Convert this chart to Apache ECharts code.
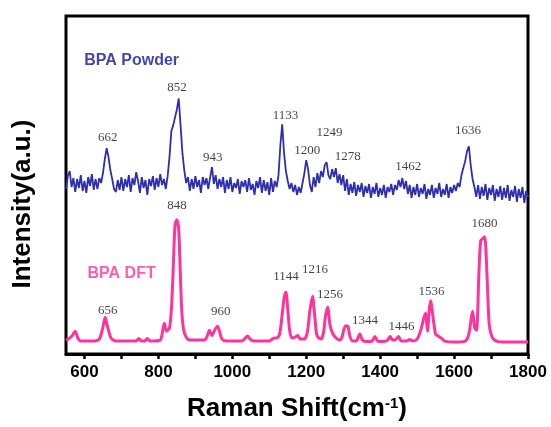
<!DOCTYPE html>
<html>
<head>
<meta charset="utf-8">
<script src="https://cdn.jsdelivr.net/npm/echarts@6/dist/echarts.min.js"></script>
<style>html,body{margin:0;padding:0;background:#fff;}#c{width:551px;height:427px;}</style>
</head>
<body>
<div id="c"></div>
<script>
// X axis
const xMin = 550, xMax = 1800;
const xTickValues = [600,700,800,900,1000,1100,1200,1300,1400,1500,1600,1700,1800];
const xLabelValues = [600,800,1000,1200,1400,1600,1800];

// BPA Powder spectrum (sampled every 5 cm-1 from 550)
const powderStart = 550, powderStep = 5;
const powderIntensity = [
166,179,184,168,177,163,176,167,180,164,174,162,178,169,181,165,176,166,177,
172,182,196,207,198,185,176,166,
163,175,165,178,164,176,168,180,163,177,170,183,174,162,178,167,175,160,176,169,179,165,177,168,181,170,176,166,179,
198,224,230,238,246,257,230,202,185,172,178,
164,176,166,179,168,175,162,178,170,177,166,178,188,171,180,166,176,168,178,162,175,166,178,163,172,167,176,161,174,168,175,163,177,165,171,160,174,167,178,162,175,164,173,160,177,163,174,168,
180,210,231,202,184,174,166,172,
163,170,160,168,162,172,
182,195,186,170,163,
178,168,182,172,184,178,190,193,180,176,186,178,187,172,181,170,180,
164,176,160,171,162,173,159,170,163,172,158,169,162,171,157,168,161,172,158,167,160,170,157,168,163,171,160,170,165,175,168,177,166,174,161,170,157,168,160,171,158,167,161,171,156,166,160,170,157,167,161,172,158,166,160,171,157,168,162,170,164,
172,168,180,187,194,204,209,190,176,168,
158,170,156,168,159,171,155,167,160,170,154,166,158,169,155,167,157,170,154,165,158,169,153,166,157,168,152,164,158
];

// BPA DFT spectrum [shift, intensity]
const dftPoints = [
[550,14],[560,16],[568,19],[575,23],[582,16],[590,13],[620,13],[640,15],[650,27],[656,37],[662,28],[672,16],[685,13],
[740,13],[747,15.5],[754,13],[763,13],[770,15.5],[778,13],[805,14],[810,20],[816,31],[822,23],[830,26],[836,50],[841,95],
[845,130],[850,135],[855,125],[859,85],[863,45],[868,25],[875,17],[885,14],[925,14],[932,18],[938,24],[945,18.5],[952,24],
[960,28],[966,22],[972,15],[985,13],[1025,13],[1035,16],[1041,18],[1048,15],[1058,13],[1100,13],[1108,15],[1114,16],[1120,16],
[1128,20],[1135,40],[1140,56],[1145,62],[1150,45],[1155,24],[1161,16],[1170,17],[1177,18.5],[1184,15],[1195,15],[1203,22],
[1210,44],[1217,58],[1223,38],[1228,20],[1234,16],[1240,15],[1247,22],[1252,38],[1258,47],[1264,30],[1270,22],[1278,17],
[1290,14],[1296,16],[1302,25],[1308,28.5],[1313,28],[1318,18],[1326,13],[1335,13],[1345,20],[1352,14],[1365,12.5],[1378,13],
[1386,17.5],[1393,13],[1410,12.5],[1420,14],[1427,17.5],[1434,14],[1440,14],[1450,17.5],[1457,13],[1470,13],[1480,14.5],
[1488,13],[1500,15],[1510,24],[1518,36],[1523,41],[1528,23],[1533,45],[1537,53.5],[1542,40],[1550,20],[1557,18],[1565,16],
[1575,13],[1600,12],[1630,13],[1640,20],[1646,35],[1650,43],[1656,26],[1661,24],[1667,80],[1672,114],[1678,116],[1683,118],
[1689,80],[1695,30],[1703,17],[1715,13],[1740,12],[1800,12]
];

// Peak annotations
const powderPeakText = ['662','852','943','1133','1200','1249','1278','1462','1636'];
const powderPeakShift = [663,850,947,1144,1203,1263,1312,1476,1638];
const powderPeakLevel = [218,268,198,240,205,223,199,189,225];
const dftPeakText = ['656','848','960','1144','1216','1256','1344','1446','1536','1680'];
const dftPeakShift = [663,850,969,1145,1224,1264,1359,1458,1539,1682];
const dftPeakLevel = [43.5,149,42.5,77.5,85,60,34,28,62.5,131.5];
const seriesNames = ['BPA Powder','BPA DFT'];
const seriesNamePos = [[598,295],[607,81]];

const BLUE = '#2e2eb0', PINK = '#ff3399';

const chart = echarts.init(document.getElementById('c'), null, {renderer:'canvas'});

const peakData = (txt, xs, ys) => txt.map((t,i)=>({name:t, value:[xs[i], ys[i]]}));

chart.setOption({
  animation:false,
  backgroundColor:'#fff',
  grid:{left:66,right:23,top:16,bottom:71,show:true,borderColor:'#000',borderWidth:3,backgroundColor:'transparent'},
  xAxis:{
    type:'value',min:xMin,max:xMax,
    axisLine:{show:true,lineStyle:{color:'#000',width:3}},
    axisTick:{show:true,customValues:xTickValues,length:5,inside:false,lineStyle:{color:'#000',width:2.5}},
    axisLabel:{show:true,customValues:xLabelValues,formatter:(v)=>String(v),margin:10,color:'#000',fontSize:17,fontWeight:'bold',fontFamily:'"Liberation Sans", Arial, sans-serif'},
    splitLine:{show:false},
    name:'Raman Shift(cm{sup|-1})',
    nameLocation:'middle',nameGap:42,
    nameTextStyle:{color:'#000',fontSize:26,fontWeight:'bold',fontFamily:'"Liberation Sans", Arial, sans-serif',
      rich:{sup:{fontSize:15,fontWeight:'bold',verticalAlign:'top',fontFamily:'"Liberation Sans", Arial, sans-serif',color:'#000'}}}
  },
  yAxis:{
    type:'value',min:0,max:340,
    axisLine:{show:false},axisTick:{show:false},axisLabel:{show:false},splitLine:{show:false}
  },
  graphic:[{
    type:'text',x:23,y:204,rotation:Math.PI/2,
    style:{text:'Intensity(a.u.)',fill:'#000',font:'bold 26px "Liberation Sans", Arial, sans-serif',align:'center',verticalAlign:'middle'}
  }],
  series:[
    {
      type:'line',name:seriesNames[0],showSymbol:false,symbol:'none',
      data:powderIntensity.map((v,i)=>[powderStart+powderStep*i, v]),
      lineStyle:{color:BLUE,width:1.8},z:3
    },
    {
      type:'line',name:seriesNames[1],showSymbol:false,symbol:'none',smooth:0.25,
      data:dftPoints,
      lineStyle:{color:PINK,width:3},z:3
    },
    {
      type:'scatter',silent:true,symbolSize:1,itemStyle:{color:'rgba(0,0,0,0)'},z:5,
      data:peakData(powderPeakText,powderPeakShift,powderPeakLevel).concat(peakData(dftPeakText,dftPeakShift,dftPeakLevel)),
      label:{show:true,position:'inside',formatter:'{b}',color:'#111',fontSize:13,fontFamily:'"Liberation Serif", "Times New Roman", serif'}
    },
    {
      type:'scatter',silent:true,symbolSize:1,itemStyle:{color:'rgba(0,0,0,0)'},z:5,
      data:[
        {name:seriesNames[0],value:seriesNamePos[0],label:{color:'#14149a'}},
        {name:seriesNames[1],value:seriesNamePos[1],label:{color:PINK}}
      ],
      label:{show:true,position:'right',distance:0,formatter:'{b}',fontSize:16,fontWeight:'bold',fontFamily:'"Liberation Sans", Arial, sans-serif'}
    }
  ]
});
</script>
</body>
</html>
